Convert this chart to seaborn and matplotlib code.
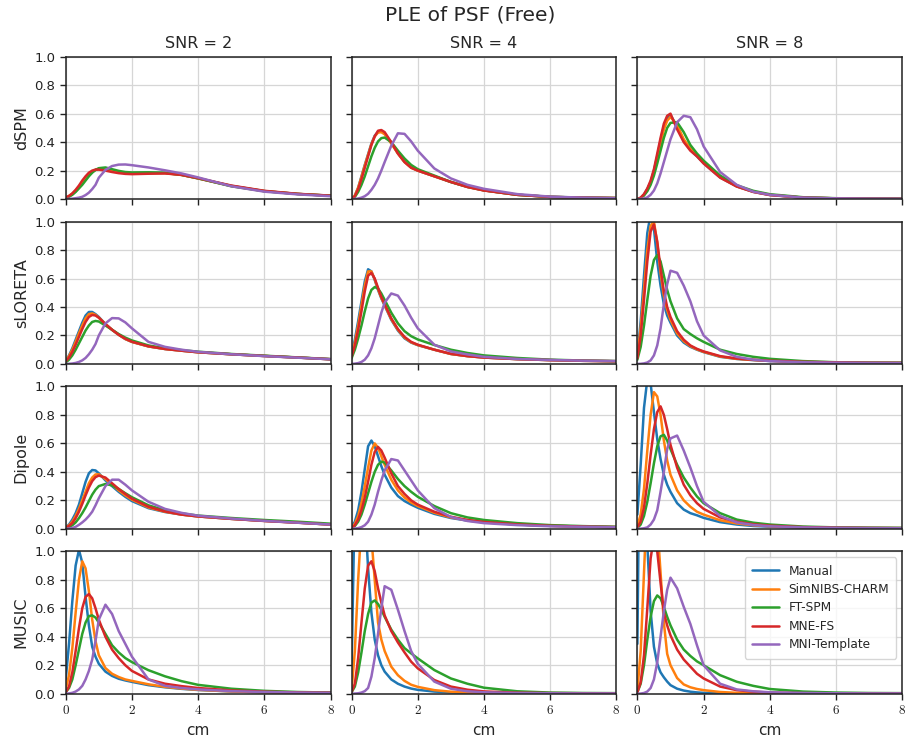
import numpy as np
import pandas as pd
import matplotlib
matplotlib.use("Agg")
import matplotlib.pyplot as plt
import seaborn as sns

# ---------------- data ----------------
x_cm = [0, 0.1, 0.2, 0.3, 0.4, 0.5, 0.6, 0.7, 0.8, 0.9, 1.0, 1.2, 1.4, 1.6, 1.8,
        2.0, 2.5, 3.0, 3.5, 4.0, 5.0, 6.0, 7.0, 8.0]
methods = ["Manual", "SimNIBS-CHARM", "FT-SPM", "MNE-FS", "MNI-Template"]
inverses = ["dSPM", "sLORETA", "Dipole", "MUSIC"]
snrs = [2, 4, 8]
x_ticks = [0, 2, 4, 6, 8]
y_ticks = [0.0, 0.2, 0.4, 0.6, 0.8, 1.0]

# dSPM
dspm2_manual = [0.01,0.02,0.035,0.055,0.08,0.11,0.14,0.165,0.19,0.205,0.212,0.208,0.198,0.19,0.185,0.182,0.184,0.183,0.17,0.145,0.093,0.056,0.036,0.023]
dspm2_charm = [0.01,0.022,0.038,0.06,0.085,0.115,0.145,0.17,0.192,0.205,0.21,0.205,0.196,0.188,0.183,0.18,0.182,0.182,0.169,0.145,0.092,0.056,0.036,0.023]
dspm2_ftspm = [0.008,0.016,0.03,0.05,0.075,0.1,0.13,0.16,0.185,0.205,0.217,0.222,0.21,0.198,0.19,0.187,0.188,0.185,0.17,0.146,0.09,0.055,0.036,0.024]
dspm2_mnefs = [0.01,0.022,0.04,0.065,0.095,0.13,0.16,0.185,0.2,0.207,0.207,0.2,0.19,0.182,0.177,0.175,0.178,0.18,0.17,0.147,0.095,0.058,0.037,0.024]
dspm2_mni = [0,0.001,0.003,0.006,0.01,0.016,0.028,0.045,0.07,0.1,0.15,0.205,0.232,0.242,0.243,0.238,0.222,0.202,0.18,0.152,0.09,0.052,0.033,0.02]

dspm4_manual = [0,0.025,0.08,0.16,0.24,0.315,0.39,0.445,0.472,0.475,0.46,0.395,0.322,0.262,0.222,0.2,0.16,0.12,0.085,0.061,0.03,0.015,0.01,0.007]
dspm4_charm = [0,0.025,0.08,0.155,0.235,0.31,0.385,0.44,0.467,0.47,0.455,0.39,0.32,0.26,0.22,0.2,0.16,0.12,0.085,0.061,0.03,0.015,0.01,0.007]
dspm4_ftspm = [0,0.015,0.05,0.1,0.16,0.23,0.3,0.36,0.405,0.428,0.432,0.4,0.34,0.285,0.24,0.21,0.165,0.12,0.087,0.062,0.03,0.016,0.01,0.007]
dspm4_mnefs = [0,0.02,0.07,0.14,0.22,0.3,0.38,0.44,0.48,0.485,0.47,0.4,0.32,0.26,0.22,0.2,0.16,0.12,0.085,0.06,0.03,0.015,0.01,0.007]
dspm4_mni = [0,0.001,0.004,0.01,0.02,0.037,0.065,0.1,0.145,0.2,0.26,0.375,0.462,0.458,0.405,0.34,0.215,0.145,0.1,0.072,0.035,0.017,0.01,0.006]

dspm8_manual = [0,0.009,0.032,0.07,0.12,0.2,0.3,0.41,0.51,0.57,0.59,0.51,0.41,0.345,0.3,0.252,0.152,0.089,0.051,0.029,0.01,0.005,0.003,0.002]
dspm8_charm = [0,0.008,0.03,0.065,0.115,0.19,0.29,0.39,0.49,0.55,0.577,0.52,0.42,0.355,0.305,0.255,0.155,0.09,0.052,0.03,0.011,0.005,0.003,0.002]
dspm8_ftspm = [0,0.007,0.025,0.055,0.1,0.165,0.25,0.34,0.43,0.5,0.535,0.54,0.47,0.38,0.32,0.27,0.165,0.097,0.058,0.034,0.013,0.006,0.004,0.003]
dspm8_mnefs = [0,0.01,0.035,0.075,0.13,0.21,0.32,0.43,0.53,0.585,0.6,0.49,0.4,0.34,0.3,0.25,0.15,0.088,0.05,0.028,0.01,0.005,0.003,0.002]
dspm8_mni = [0,0.001,0.004,0.012,0.03,0.06,0.11,0.18,0.26,0.34,0.42,0.54,0.585,0.575,0.49,0.37,0.19,0.1,0.052,0.03,0.01,0.005,0.003,0.002]

# sLORETA
slor2_manual = [0.02,0.06,0.11,0.17,0.23,0.29,0.34,0.365,0.365,0.35,0.33,0.28,0.24,0.205,0.175,0.155,0.123,0.105,0.093,0.082,0.068,0.056,0.045,0.033]
slor2_charm = [0.02,0.055,0.1,0.155,0.215,0.27,0.32,0.35,0.355,0.345,0.325,0.28,0.24,0.205,0.175,0.155,0.123,0.105,0.093,0.082,0.068,0.056,0.045,0.033]
slor2_ftspm = [0.01,0.03,0.06,0.1,0.145,0.19,0.235,0.27,0.295,0.302,0.298,0.27,0.24,0.21,0.185,0.165,0.13,0.11,0.097,0.086,0.07,0.058,0.046,0.034]
slor2_mnefs = [0.018,0.045,0.085,0.135,0.19,0.245,0.295,0.33,0.344,0.34,0.325,0.28,0.24,0.205,0.177,0.156,0.124,0.105,0.093,0.082,0.068,0.056,0.045,0.033]
slor2_mni = [0,0.001,0.003,0.007,0.014,0.025,0.042,0.068,0.1,0.14,0.2,0.285,0.322,0.32,0.292,0.25,0.155,0.12,0.1,0.085,0.068,0.055,0.044,0.033]

slor4_manual = [0.06,0.17,0.3,0.44,0.58,0.665,0.65,0.59,0.52,0.46,0.41,0.31,0.235,0.18,0.15,0.132,0.1,0.07,0.055,0.045,0.034,0.027,0.022,0.019]
slor4_charm = [0.055,0.15,0.27,0.41,0.55,0.65,0.65,0.595,0.525,0.465,0.415,0.315,0.24,0.185,0.152,0.133,0.1,0.07,0.055,0.045,0.034,0.027,0.022,0.019]
slor4_ftspm = [0.04,0.1,0.18,0.27,0.37,0.46,0.52,0.54,0.53,0.495,0.45,0.36,0.285,0.23,0.195,0.172,0.133,0.1,0.077,0.06,0.042,0.03,0.024,0.02]
slor4_mnefs = [0.05,0.13,0.24,0.37,0.51,0.62,0.64,0.6,0.535,0.47,0.42,0.32,0.245,0.19,0.155,0.135,0.1,0.071,0.055,0.045,0.034,0.027,0.022,0.019]
slor4_mni = [0,0.002,0.006,0.014,0.03,0.06,0.11,0.18,0.27,0.36,0.43,0.495,0.48,0.41,0.325,0.25,0.135,0.088,0.067,0.05,0.035,0.028,0.023,0.02]

slor8_manual = [0.05,0.3,0.62,0.92,1.05,0.95,0.72,0.55,0.42,0.34,0.29,0.2,0.15,0.12,0.1,0.083,0.05,0.035,0.027,0.021,0.014,0.01,0.008,0.007]
slor8_charm = [0.05,0.25,0.52,0.8,0.97,1.0,0.85,0.64,0.48,0.38,0.31,0.215,0.16,0.125,0.102,0.085,0.052,0.036,0.028,0.022,0.014,0.01,0.008,0.007]
slor8_ftspm = [0.03,0.12,0.27,0.45,0.62,0.73,0.765,0.72,0.62,0.52,0.44,0.32,0.245,0.21,0.18,0.155,0.1,0.07,0.05,0.036,0.02,0.012,0.009,0.008]
slor8_mnefs = [0.04,0.2,0.45,0.72,0.93,0.98,0.86,0.67,0.51,0.4,0.33,0.23,0.17,0.13,0.106,0.088,0.055,0.038,0.029,0.023,0.015,0.011,0.008,0.007]
slor8_mni = [0,0.001,0.004,0.01,0.025,0.06,0.13,0.25,0.42,0.56,0.655,0.64,0.55,0.44,0.3,0.2,0.095,0.05,0.03,0.02,0.012,0.009,0.007,0.006]

# Dipole
dip2_manual = [0.01,0.03,0.065,0.11,0.17,0.25,0.33,0.39,0.413,0.41,0.39,0.34,0.3,0.26,0.225,0.195,0.145,0.118,0.1,0.087,0.07,0.056,0.044,0.03]
dip2_charm = [0.01,0.025,0.05,0.09,0.14,0.2,0.26,0.32,0.36,0.382,0.383,0.35,0.31,0.27,0.235,0.205,0.15,0.12,0.1,0.087,0.07,0.056,0.044,0.03]
dip2_ftspm = [0.005,0.012,0.025,0.045,0.075,0.11,0.15,0.195,0.24,0.275,0.3,0.315,0.305,0.28,0.25,0.222,0.165,0.13,0.108,0.093,0.076,0.062,0.05,0.036]
dip2_mnefs = [0.008,0.02,0.04,0.075,0.12,0.175,0.235,0.29,0.335,0.363,0.374,0.36,0.32,0.28,0.245,0.212,0.155,0.122,0.1,0.087,0.07,0.055,0.043,0.03]
dip2_mni = [0,0.002,0.006,0.014,0.028,0.045,0.065,0.09,0.12,0.165,0.215,0.3,0.345,0.345,0.31,0.27,0.19,0.14,0.112,0.092,0.072,0.056,0.043,0.03]

dip4_manual = [0.01,0.05,0.13,0.26,0.42,0.58,0.62,0.58,0.51,0.44,0.38,0.29,0.23,0.195,0.17,0.148,0.105,0.076,0.058,0.046,0.03,0.021,0.016,0.012]
dip4_charm = [0.008,0.035,0.09,0.18,0.3,0.43,0.55,0.6,0.57,0.51,0.45,0.345,0.27,0.22,0.185,0.16,0.113,0.08,0.06,0.047,0.031,0.021,0.016,0.012]
dip4_ftspm = [0.005,0.02,0.05,0.1,0.17,0.25,0.33,0.4,0.45,0.472,0.465,0.41,0.35,0.3,0.26,0.225,0.16,0.11,0.08,0.062,0.04,0.026,0.019,0.014]
dip4_mnefs = [0.006,0.025,0.065,0.13,0.22,0.33,0.45,0.54,0.575,0.55,0.5,0.39,0.3,0.245,0.2,0.17,0.12,0.085,0.062,0.048,0.031,0.021,0.016,0.012]
dip4_mni = [0,0.002,0.005,0.012,0.025,0.05,0.1,0.17,0.26,0.34,0.41,0.49,0.48,0.41,0.34,0.27,0.145,0.083,0.055,0.04,0.026,0.018,0.014,0.011]

dip8_manual = [0.1,0.45,0.85,1.05,1.02,0.82,0.63,0.49,0.38,0.31,0.26,0.18,0.135,0.11,0.095,0.077,0.047,0.03,0.02,0.015,0.009,0.007,0.005,0.004]
dip8_charm = [0.02,0.1,0.28,0.55,0.8,0.96,0.93,0.8,0.62,0.48,0.38,0.27,0.2,0.155,0.12,0.1,0.06,0.038,0.025,0.018,0.01,0.007,0.005,0.004]
dip8_ftspm = [0.005,0.03,0.09,0.19,0.32,0.46,0.58,0.65,0.66,0.62,0.56,0.45,0.36,0.29,0.227,0.18,0.11,0.065,0.043,0.03,0.016,0.01,0.008,0.007]
dip8_mnefs = [0.01,0.05,0.15,0.32,0.52,0.7,0.82,0.86,0.8,0.7,0.59,0.43,0.31,0.235,0.18,0.14,0.08,0.05,0.032,0.022,0.012,0.008,0.006,0.005]
dip8_mni = [0,0.001,0.004,0.01,0.03,0.065,0.13,0.26,0.4,0.56,0.635,0.655,0.55,0.43,0.3,0.19,0.09,0.045,0.027,0.018,0.01,0.007,0.005,0.004]

# MUSIC
mus2_manual = [0.1,0.35,0.65,0.9,1.01,0.92,0.68,0.48,0.33,0.26,0.21,0.155,0.125,0.105,0.093,0.083,0.06,0.045,0.034,0.026,0.016,0.01,0.007,0.005]
mus2_charm = [0.03,0.13,0.32,0.57,0.8,0.93,0.88,0.72,0.52,0.37,0.27,0.18,0.14,0.117,0.1,0.09,0.066,0.048,0.036,0.027,0.016,0.01,0.007,0.005]
mus2_ftspm = [0.01,0.04,0.1,0.2,0.31,0.42,0.5,0.545,0.55,0.535,0.5,0.42,0.34,0.29,0.25,0.222,0.165,0.122,0.088,0.062,0.035,0.02,0.012,0.008]
mus2_mnefs = [0.01,0.05,0.15,0.3,0.46,0.6,0.68,0.7,0.67,0.6,0.52,0.4,0.31,0.25,0.2,0.16,0.1,0.07,0.053,0.04,0.023,0.014,0.009,0.007]
mus2_mni = [0,0.002,0.006,0.015,0.03,0.055,0.1,0.16,0.24,0.37,0.52,0.625,0.56,0.44,0.35,0.26,0.1,0.055,0.04,0.03,0.018,0.012,0.008,0.006]

mus4_manual = [0.17,1.4,1.8,1.7,1.3,0.88,0.57,0.38,0.27,0.2,0.155,0.1,0.07,0.05,0.036,0.027,0.015,0.009,0.006,0.004,0.003,0.002,0.002,0.002]
mus4_charm = [0.02,0.3,0.8,1.2,1.35,1.3,1.1,0.8,0.5,0.38,0.3,0.19,0.13,0.09,0.063,0.048,0.025,0.014,0.008,0.005,0.003,0.002,0.002,0.002]
mus4_ftspm = [0.01,0.05,0.15,0.29,0.44,0.56,0.64,0.655,0.63,0.59,0.54,0.45,0.38,0.32,0.283,0.248,0.166,0.107,0.07,0.042,0.017,0.008,0.005,0.004]
mus4_mnefs = [0.01,0.07,0.25,0.5,0.74,0.9,0.93,0.86,0.74,0.64,0.55,0.44,0.36,0.29,0.225,0.178,0.096,0.05,0.028,0.016,0.007,0.004,0.003,0.002]
mus4_mni = [0,0.001,0.003,0.008,0.018,0.04,0.12,0.25,0.42,0.6,0.755,0.73,0.59,0.44,0.3,0.21,0.085,0.035,0.017,0.01,0.005,0.003,0.002,0.002]

mus8_manual = [0.35,2.5,2.0,1.05,0.58,0.33,0.21,0.15,0.115,0.085,0.06,0.035,0.022,0.014,0.009,0.006,0.003,0.002,0.002,0.002,0.002,0.002,0.002,0.002]
mus8_charm = [0.02,0.3,0.85,1.4,1.6,1.5,1.2,0.85,0.5,0.28,0.2,0.11,0.065,0.045,0.033,0.025,0.012,0.006,0.004,0.003,0.002,0.002,0.002,0.002]
mus8_ftspm = [0.01,0.07,0.2,0.38,0.54,0.65,0.69,0.67,0.61,0.54,0.48,0.38,0.31,0.265,0.227,0.2,0.13,0.084,0.055,0.033,0.015,0.008,0.005,0.004]
mus8_mnefs = [0.01,0.08,0.27,0.6,0.95,1.1,1.0,0.78,0.57,0.48,0.41,0.31,0.24,0.19,0.14,0.107,0.05,0.025,0.014,0.008,0.004,0.003,0.002,0.002]
mus8_mni = [0,0.001,0.005,0.015,0.04,0.1,0.22,0.4,0.58,0.73,0.815,0.74,0.61,0.49,0.34,0.2,0.07,0.03,0.017,0.01,0.005,0.003,0.002,0.002]

panels = {
    ("dSPM", 2): [dspm2_manual, dspm2_charm, dspm2_ftspm, dspm2_mnefs, dspm2_mni],
    ("dSPM", 4): [dspm4_manual, dspm4_charm, dspm4_ftspm, dspm4_mnefs, dspm4_mni],
    ("dSPM", 8): [dspm8_manual, dspm8_charm, dspm8_ftspm, dspm8_mnefs, dspm8_mni],
    ("sLORETA", 2): [slor2_manual, slor2_charm, slor2_ftspm, slor2_mnefs, slor2_mni],
    ("sLORETA", 4): [slor4_manual, slor4_charm, slor4_ftspm, slor4_mnefs, slor4_mni],
    ("sLORETA", 8): [slor8_manual, slor8_charm, slor8_ftspm, slor8_mnefs, slor8_mni],
    ("Dipole", 2): [dip2_manual, dip2_charm, dip2_ftspm, dip2_mnefs, dip2_mni],
    ("Dipole", 4): [dip4_manual, dip4_charm, dip4_ftspm, dip4_mnefs, dip4_mni],
    ("Dipole", 8): [dip8_manual, dip8_charm, dip8_ftspm, dip8_mnefs, dip8_mni],
    ("MUSIC", 2): [mus2_manual, mus2_charm, mus2_ftspm, mus2_mnefs, mus2_mni],
    ("MUSIC", 4): [mus4_manual, mus4_charm, mus4_ftspm, mus4_mnefs, mus4_mni],
    ("MUSIC", 8): [mus8_manual, mus8_charm, mus8_ftspm, mus8_mnefs, mus8_mni],
}

rows = []
for (inv, snr), series in panels.items():
    for m, ys in zip(methods, series):
        for xv, yv in zip(x_cm, ys):
            rows.append((inv, snr, m, xv, yv))
df = pd.DataFrame(rows, columns=["inverse", "snr", "method", "cm", "ple"])

# ---------------- style ----------------
sns.set_theme(style="ticks")
plt.rcParams["font.family"] = ["DejaVu Sans"]
plt.rcParams["mathtext.fontset"] = "cm"
palette = dict(zip(methods, sns.color_palette("tab10", 5)))

fig, axes = plt.subplots(4, 3, figsize=(9.05, 7.42), dpi=100, sharex=True, sharey=True)
fig.subplots_adjust(left=0.0726, right=0.997, bottom=0.0651, top=0.9236,
                    wspace=0.079, hspace=0.158)

for i, inv in enumerate(inverses):
    for j, snr in enumerate(snrs):
        ax = axes[i, j]
        sub = df[(df.inverse == inv) & (df.snr == snr)]
        last = (i == 3 and j == 2)
        sns.lineplot(data=sub, x="cm", y="ple", hue="method", hue_order=methods,
                     palette=palette, linewidth=1.8, estimator=None, sort=True,
                     ax=ax, legend=last)
        ax.set_xlim(0, 8)
        ax.set_ylim(0, 1)
        ax.set_xticks(x_ticks)
        ax.set_yticks(y_ticks)
        ax.grid(True, color="#d6d6d6", linewidth=0.9)
        ax.set_axisbelow(True)
        for sp in ax.spines.values():
            sp.set_color("#222222")
            sp.set_linewidth(1.1)
        ax.tick_params(axis="both", labelsize=9.5, length=4, width=1, colors="#222222")
        ax.set_xlabel("cm" if i == 3 else "", fontsize=11)
        ax.set_ylabel(inv if j == 0 else "", fontsize=11.5)
        if i == 0:
            ax.set_title(f"SNR = {snr}", fontsize=11.5, pad=6)
        if i == 3:
            ax.set_xticklabels([f"${t}$" for t in x_ticks])
        if j == 0:
            ax.set_yticklabels([f"{t:.1f}" for t in y_ticks])
        if last:
            ax.legend(loc="upper right", fontsize=8.7, frameon=True,
                      handlelength=2.2, borderpad=0.6, labelspacing=0.45)

fig.suptitle("PLE of PSF (Free)", x=0.519, y=0.993, fontsize=14.5)
fig.savefig("out.png", dpi=100)
